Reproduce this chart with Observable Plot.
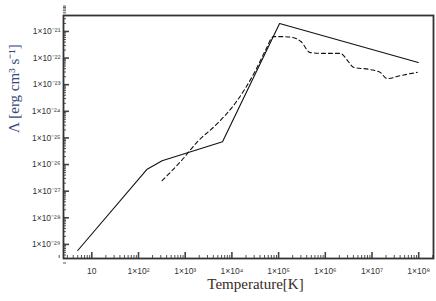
<!DOCTYPE html>
<html>
<head>
<meta charset="utf-8">
<script src="https://cdn.jsdelivr.net/npm/d3@7"></script>
<script src="https://cdn.jsdelivr.net/npm/@observablehq/plot@0.6"></script>
<style>
  html, body { margin: 0; padding: 0; background: #fff; }
</style>
</head>
<body>
<div id="chart"></div>
<script>
// Solid curve (piecewise)
const solidT = [5, 150, 320, 6300, 1.05e5, 9.8e7];
const solidL = [5.9e-30, 6.5e-27, 1.4e-26, 7.2e-26, 2.0e-21, 6.8e-23];

// Dashed curve
const dashT = [320, 800, 1.8e3, 4.9e3, 1.2e4, 3.2e4, 5.2e4, 7.8e4, 1.25e5, 2.0e5, 3.0e5, 4.8e5, 1.0e6, 2.1e6, 3.0e6, 4.0e6, 9.3e6, 1.5e7, 2.1e7, 4.1e7, 9.3e7];
const dashL = [2.5e-27, 1.3e-26, 7.0e-26, 3.5e-25, 2.1e-24, 3.4e-23, 1.9e-22, 6.4e-22, 6.4e-22, 5.9e-22, 4.2e-22, 1.6e-22, 1.5e-22, 1.5e-22, 8.1e-23, 4.5e-23, 3.7e-23, 2.9e-23, 1.7e-23, 2.2e-23, 2.9e-23];

const xMajor = [10, 1e2, 1e3, 1e4, 1e5, 1e6, 1e7, 1e8];
const yMajor = [1e-29, 1e-28, 1e-27, 1e-26, 1e-25, 1e-24, 1e-23, 1e-22, 1e-21];

const xLabel = "Temperature[K]";
const yLabel = "Λ [erg cm³ s⁻¹]";

const sup = {"0":"⁰","1":"¹","2":"²","3":"³","4":"⁴","5":"⁵","6":"⁶","7":"⁷","8":"⁸","9":"⁹","-":"⁻"};
function fmt(v) {
  const e = Math.round(Math.log10(v));
  if (e === 1) return "10";
  return "1×10" + String(e).split("").map(c => sup[c]).join("");
}
function minors(lo, hi) {
  const out = [];
  for (let d = lo; d < hi; d++) for (let k = 2; k <= 9; k++) out.push(k * Math.pow(10, d));
  return out;
}
const xMinor = minors(0, 9);
const yMinor = minors(-30, -20);

const solid = solidT.map((t, i) => ({T: t, L: solidL[i]}));
const dashed = dashT.map((t, i) => ({T: t, L: dashL[i]}));

const xDomain = [Math.pow(10, 0.394), Math.pow(10, 8.317)];
const yDomain = [Math.pow(10, -29.53), Math.pow(10, -20.40)];

const chart = Plot.plot({
  width: 436,
  height: 301,
  marginTop: 15,
  marginBottom: 43,
  marginLeft: 63,
  marginRight: 3,
  style: {background: "#fff", fontFamily: "Liberation Sans, sans-serif"},
  x: {type: "log", domain: xDomain},
  y: {type: "log", domain: yDomain},
  marks: [
    Plot.axisX({ticks: xMinor, tickSize: -3, text: null, stroke: "#555", label: null}),
    Plot.axisX({ticks: xMajor, tickSize: -6, text: null, stroke: "#444", strokeWidth: 1.6, label: null}),
    Plot.axisX({ticks: xMajor, tickSize: 0, tickPadding: 9, tickFormat: fmt, fontSize: 8.5, fill: "#333", label: null}),
    Plot.axisY({ticks: yMinor, tickSize: -3, text: null, stroke: "#555", label: null}),
    Plot.axisY({ticks: yMajor, tickSize: -6, text: null, stroke: "#444", strokeWidth: 1.6, label: null}),
    Plot.axisY({ticks: yMajor, tickSize: 0, tickPadding: 3, tickFormat: fmt, fontSize: 8.5, fill: "#333", label: null}),
    Plot.frame({stroke: "#333", strokeWidth: 1.8}),
    Plot.line(solid, {x: "T", y: "L", stroke: "#111", strokeWidth: 1.1}),
    Plot.line(dashed, {x: "T", y: "L", stroke: "#111", strokeWidth: 1.1, strokeDasharray: "4,3", curve: "monotone-x"}),
    Plot.text([xLabel], {frameAnchor: "bottom", dy: 30, dx: 7, fontSize: 15, fill: "#3a2a1e", fontFamily: "Liberation Serif, serif"}),
    Plot.text([yLabel], {frameAnchor: "left", dx: -49, dy: -4, rotate: -90, fontSize: 15, fill: "#34477a", fontFamily: "Liberation Serif, serif"})
  ]
});
document.getElementById("chart").appendChild(chart);
</script>
</body>
</html>
